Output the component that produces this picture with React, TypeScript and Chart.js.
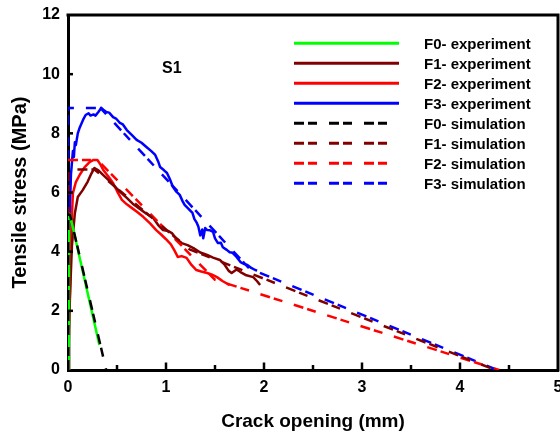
import React, { useEffect, useRef } from 'react';
import { Chart, registerables } from 'chart.js';

Chart.register(...registerables);

const FONT = "'Liberation Sans', Arial, Helvetica, sans-serif";

// ---------- axis / tick data ----------
const xMin = 0;
const xMax = 5;
const yMin = 0;
const yMax = 12;
const xTickStep = 1;
const yTickStep = 2;
const xTickMarks = [0.5, 1, 1.5, 2, 2.5, 3, 3.5, 4, 4.5];
const yTickMarks = [2, 4, 6, 8, 10];
const xTitle = 'Crack opening (mm)';
const yTitle = 'Tensile stress (MPa)';
const annotationText = 'S1';
const annotationX = 1.06;
const annotationY = 10.19;

// ---------- series ----------
const seriesNames = [
  'F0- experiment',
  'F1- experiment',
  'F2- experiment',
  'F3- experiment',
  'F0- simulation',
  'F1- simulation',
  'F2- simulation',
  'F3- simulation',
];
const seriesColors = ['#00ff00', '#800000', '#ff0000', '#0000ff', '#000000', '#800000', '#ff0000', '#0000ff'];
const seriesDashed = [false, false, false, false, true, true, true, true];

// experiments
const f0ExpX = [0, 0.01, 0.02, 0.32];
const f0ExpY = [0, 5.3, 5.25, 0.85];

const f1ExpX = [0, 0.02, 0.04, 0.07, 0.1, 0.15, 0.2, 0.24, 0.27, 0.31, 0.36, 0.42, 0.48, 0.54, 0.6, 0.66, 0.73, 0.8, 0.87, 0.92, 0.97, 1.02, 1.06, 1.1, 1.16, 1.22, 1.28, 1.35, 1.42, 1.48, 1.55, 1.6, 1.64, 1.67, 1.72, 1.76, 1.82, 1.89, 1.93, 1.96];
const f1ExpY = [0, 2.5, 4.2, 5.3, 5.85, 6.08, 6.36, 6.65, 6.83, 6.75, 6.59, 6.4, 6.19, 6.0, 5.82, 5.62, 5.45, 5.28, 5.14, 4.9, 4.73, 4.7, 4.63, 4.45, 4.29, 4.22, 4.12, 3.97, 3.89, 3.8, 3.72, 3.55, 3.35, 3.28, 3.4, 3.31, 3.2, 3.14, 3.0, 2.87];

const f2ExpX = [0, 0.01, 0.02, 0.03, 0.04, 0.05, 0.08, 0.12, 0.17, 0.22, 0.26, 0.3, 0.33, 0.36, 0.41, 0.46, 0.5, 0.55, 0.6, 0.65, 0.71, 0.77, 0.84, 0.9, 0.95, 1.0, 1.05, 1.09, 1.12, 1.16, 1.21, 1.26, 1.31, 1.36, 1.42, 1.47, 1.52, 1.58, 1.65];
const f2ExpY = [0, 1.5, 2.6, 4.0, 5.2, 5.98, 6.35, 6.6, 6.86, 7.03, 7.1, 7.1, 6.95, 6.76, 6.55, 6.32, 6.05, 5.75, 5.6, 5.48, 5.33, 5.17, 4.95, 4.73, 4.58, 4.42, 4.25, 4.02, 3.82, 3.85, 3.79, 3.55, 3.38, 3.33, 3.28, 3.22, 3.14, 3.0, 2.87];

const f3ExpX = [0, 0.01, 0.02, 0.03, 0.04, 0.05, 0.06, 0.07, 0.08, 0.1, 0.12, 0.14, 0.16, 0.18, 0.21, 0.23, 0.26, 0.28, 0.31, 0.34, 0.36, 0.39, 0.42, 0.46, 0.49, 0.53, 0.56, 0.6, 0.65, 0.7, 0.75, 0.8, 0.85, 0.89, 0.92, 0.94, 0.98, 1.01, 1.04, 1.07, 1.1, 1.14, 1.17, 1.19, 1.23, 1.27, 1.29, 1.31, 1.33, 1.35, 1.37, 1.38, 1.4, 1.42, 1.45, 1.48, 1.5, 1.53, 1.56, 1.58, 1.62, 1.65, 1.68, 1.72, 1.76, 1.8, 1.83, 1.87, 1.91, 1.93];
const f3ExpY = [0, 3.0, 5.5, 6.6, 7.0, 7.4, 7.2, 7.7, 7.6, 8.0, 8.2, 8.35, 8.5, 8.62, 8.68, 8.6, 8.64, 8.6, 8.72, 8.86, 8.8, 8.72, 8.7, 8.55, 8.5, 8.35, 8.3, 8.11, 7.95, 7.78, 7.68, 7.54, 7.4, 7.27, 7.05, 6.86, 6.75, 6.66, 6.45, 6.19, 6.05, 5.92, 5.7, 5.58, 5.45, 5.31, 5.1, 5.0, 4.85, 4.55, 4.75, 4.45, 4.8, 4.73, 4.72, 4.67, 4.45, 4.29, 4.3, 4.15, 4.06, 3.98, 3.96, 3.82, 3.65, 3.58, 3.55, 3.45, 3.38, 3.36];

// simulations
const f0SimX = [0, 0, 0.02, 0.39];
const f0SimY = [0, 5.25, 5.25, 0];

const f1SimX = [0, 0, 0.27, 1.24, 4.36];
const f1SimY = [0, 6.78, 6.78, 4.08, 0];

const f2SimX = [0, 0, 0.3, 1.5, 4.4];
const f2SimY = [0, 7.1, 7.1, 3.05, 0];

const f3SimX = [0, 0, 0.33, 1.85, 4.38];
const f3SimY = [0, 8.86, 8.86, 3.43, 0];

const seriesX = [f0ExpX, f1ExpX, f2ExpX, f3ExpX, f0SimX, f1SimX, f2SimX, f3SimX];
const seriesY = [f0ExpY, f1ExpY, f2ExpY, f3ExpY, f0SimY, f1SimY, f2SimY, f3SimY];

const DASH = [10, 4, 9, 12];

const toPoints = (xs: number[], ys: number[]) => xs.map((x, i) => ({ x, y: ys[i] }));

const overlayPlugin = {
  id: 'overlay',
  afterDatasetsDraw(chart: any) {
    const { ctx, chartArea: a, scales } = chart;
    const xs = scales.x;
    const ys = scales.y;
    ctx.save();
    // top & right frame
    ctx.strokeStyle = '#000';
    ctx.lineWidth = 3;
    ctx.setLineDash([]);
    ctx.beginPath();
    ctx.moveTo(a.left - 1.5, a.top);
    ctx.lineTo(a.right, a.top);
    ctx.lineTo(a.right, a.bottom + 1.5);
    ctx.stroke();
    // inward ticks
    ctx.lineWidth = 2.5;
    for (const v of xTickMarks) {
      const px = xs.getPixelForValue(v);
      const len = Number.isInteger(v) ? 7.5 : 5;
      ctx.beginPath();
      ctx.moveTo(px, a.bottom);
      ctx.lineTo(px, a.bottom - len);
      ctx.stroke();
    }
    for (const v of yTickMarks) {
      const py = ys.getPixelForValue(v);
      ctx.beginPath();
      ctx.moveTo(a.left, py);
      ctx.lineTo(a.left + 5, py);
      ctx.stroke();
    }
    // annotation
    ctx.fillStyle = '#000';
    ctx.font = `bold 16px ${FONT}`;
    ctx.textAlign = 'center';
    ctx.textBaseline = 'middle';
    ctx.fillText(annotationText, xs.getPixelForValue(annotationX), ys.getPixelForValue(annotationY));
    // legend
    const lx0 = 294;
    const lx1 = 399;
    const tx = 424;
    const y0 = 43.3;
    const dy = 20;
    ctx.textAlign = 'left';
    ctx.textBaseline = 'alphabetic';
    ctx.font = `bold 15px ${FONT}`;
    seriesNames.forEach((name, i) => {
      const y = y0 + dy * i;
      ctx.strokeStyle = seriesColors[i];
      ctx.lineWidth = 3;
      ctx.lineCap = 'butt';
      ctx.setLineDash(seriesDashed[i] ? DASH : []);
      ctx.beginPath();
      ctx.moveTo(lx0, y);
      ctx.lineTo(lx1, y);
      ctx.stroke();
      ctx.fillStyle = '#000';
      ctx.fillText(name, tx, y + 6);
    });
    ctx.restore();
  },
};

export default function App() {
  const ref = useRef<HTMLCanvasElement>(null);

  useEffect(() => {
    if (!ref.current) return;
    const datasets = seriesNames.map((name, i) => ({
      label: name,
      data: toPoints(seriesX[i], seriesY[i]),
      borderColor: seriesColors[i],
      backgroundColor: seriesColors[i],
      borderWidth: 2.5,
      borderDash: seriesDashed[i] ? DASH : [],
      borderCapStyle: 'butt' as const,
      borderJoinStyle: 'round' as const,
      pointRadius: 0,
      showLine: true,
      tension: 0,
      fill: false,
      order: seriesDashed[i] ? 1 : 2,
    }));

    const chart = new Chart(ref.current, {
      type: 'scatter',
      data: { datasets },
      options: {
        animation: false,
        responsive: false,
        devicePixelRatio: 1,
        events: [],
        layout: { padding: { top: 15, right: 2, left: 0, bottom: 0 } },
        plugins: { legend: { display: false }, tooltip: { enabled: false } },
        scales: {
          x: {
            type: 'linear',
            min: xMin,
            max: xMax,
            ticks: {
              stepSize: xTickStep,
              padding: 8,
              color: '#000',
              font: { family: FONT, size: 16, weight: 'bold', lineHeight: 1.2 },
              maxRotation: 0,
              autoSkip: false,
            },
            grid: { display: true, color: 'rgba(0,0,0,0)', drawTicks: false },
            border: { display: true, width: 3, color: '#000' },
            title: {
              display: true,
              text: xTitle,
              color: '#000',
              font: { family: FONT, size: 19, weight: 'bold', lineHeight: 1.2 },
              padding: { top: 0, bottom: 2 },
            },
            afterFit: (scale: any) => {
              scale.height = 65;
              scale.paddingLeft = 0;
              scale.paddingRight = 0;
            },
          },
          y: {
            type: 'linear',
            min: yMin,
            max: yMax,
            ticks: {
              stepSize: yTickStep,
              padding: 8,
              color: '#000',
              font: { family: FONT, size: 16, weight: 'bold', lineHeight: 1.2 },
            },
            grid: { display: true, color: 'rgba(0,0,0,0)', drawTicks: false },
            border: { display: true, width: 3, color: '#000' },
            title: {
              display: true,
              text: yTitle,
              color: '#000',
              font: { family: FONT, size: 20, weight: 'bold', lineHeight: 1.2 },
              padding: { top: 8, bottom: 0 },
            },
            afterFit: (scale: any) => {
              scale.width = 68;
              scale.paddingTop = 0;
              scale.paddingBottom = 0;
            },
          },
        },
      } as any,
      plugins: [overlayPlugin],
    });
    return () => chart.destroy();
  }, []);

  return (
    <div style={{ position: 'fixed', left: 0, top: 0, width: 560, height: 435, background: '#fff' }}>
      <canvas ref={ref} width={560} height={435} style={{ display: 'block' }} />
    </div>
  );
}
